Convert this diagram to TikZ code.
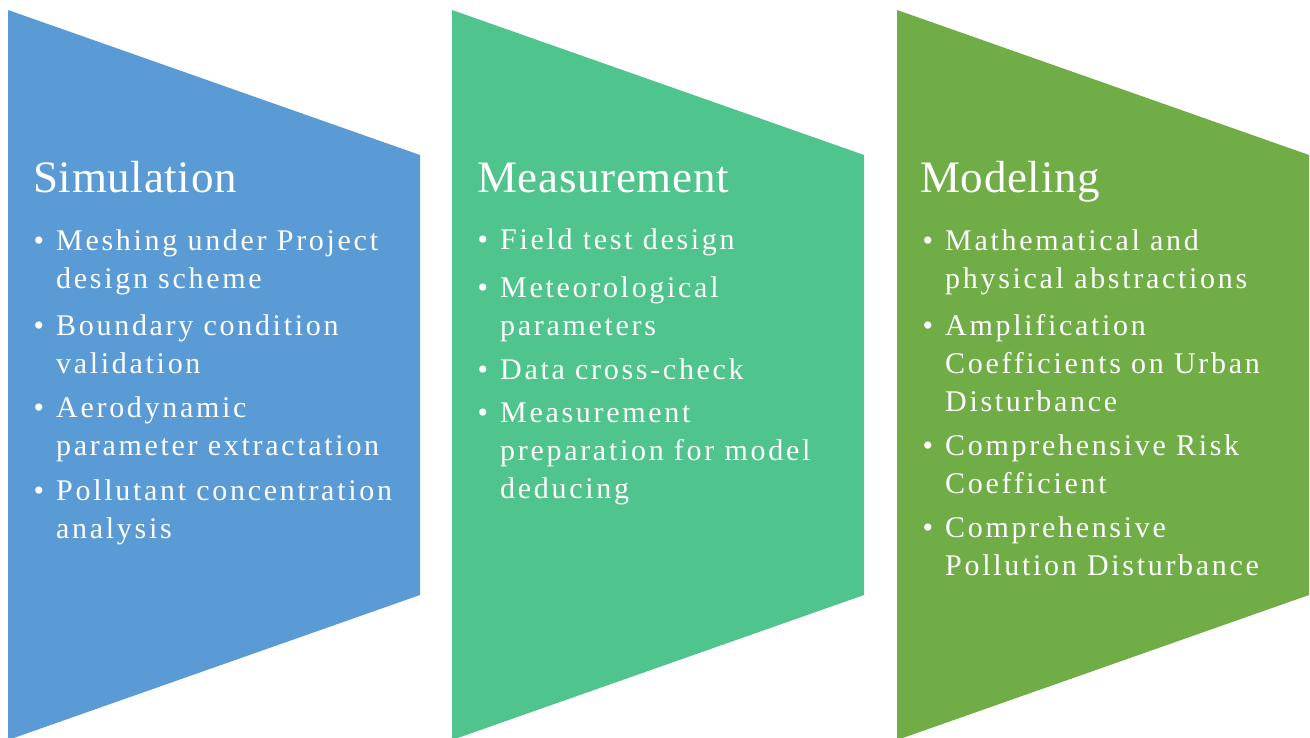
\documentclass[tikz,border=0pt]{standalone}
\usepackage{fontspec}
\setmainfont{Liberation Serif}
\newfontfamily\headfont[LetterSpace=1.5]{Liberation Serif}
\newfontfamily\pointfont[LetterSpace=9]{Liberation Serif}

\definecolor{simblue}{HTML}{5B9BD5}
\definecolor{measgreen}{HTML}{4FC48C}
\definecolor{modgreen}{HTML}{70AD47}

% hanging bullet in front of the first line of a point
\newcommand{\bul}{\llap{\textbullet\hspace{12pt}}}

\tikzset{
  heading/.style={anchor=base west, inner sep=0pt, text=white, font=\fontsize{45}{54}\headfont},
  % base anchor sits on the last line of a point
  point/.style={anchor=base west, inner sep=0pt, text=white, align=left, font=\fontsize{30}{38}\pointfont},
}

\begin{document}
\begin{tikzpicture}[x=1pt, y=-1pt]
    \useasboundingbox (0,0) rectangle (1310,738);

    % the three panels
    \fill[simblue] (8,10) -- (420,155) -- (420,595) -- (8,740) -- cycle;
    \fill[measgreen] (452,10) -- (864,155) -- (864,595) -- (452,740) -- cycle;
    \fill[modgreen] (897,10) -- (1309,155) -- (1309,595) -- (897,740) -- cycle;

    % simulation
    \node[heading] (sim) at (33,193) {Simulation};
    \node[point] (sim1) at (56,288) {\bul Meshing under Project\\design scheme};
    \node[point] (sim2) at (56,373) {\bul Boundary condition\\validation};
    \node[point] (sim3) at (56,455) {\bul Aerodynamic\\parameter extractation};
    \node[point] (sim4) at (56,538) {\bul Pollutant concentration\\analysis};

    % measurement
    \node[heading] (meas) at (477,193) {Measurement};
    \node[point] (meas1) at (500,250) {\bul Field test design};
    \node[point] (meas2) at (500,335) {\bul Meteorological\\parameters};
    \node[point] (meas3) at (500,379) {\bul Data cross-check};
    \node[point] (meas4) at (500,498) {\bul Measurement\\preparation for model\\deducing};

    % modeling
    \node[heading] (mod) at (920,193) {Modeling};
    \node[point] (mod1) at (945,288) {\bul Mathematical and\\physical abstractions};
    \node[point] (mod2) at (945,411) {\bul Amplification\\Coefficients on Urban\\Disturbance};
    \node[point] (mod3) at (945,493) {\bul Comprehensive Risk\\Coefficient};
    \node[point] (mod4) at (945,575) {\bul Comprehensive\\Pollution Disturbance};
\end{tikzpicture}
\end{document}
